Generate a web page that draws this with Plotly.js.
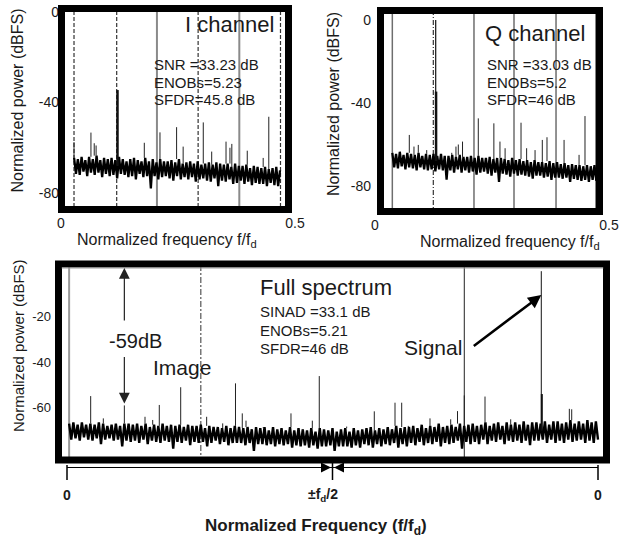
<!DOCTYPE html>
<html><head><meta charset="utf-8">
<script src="https://cdn.plot.ly/plotly-3.0.1.min.js"></script>
<style>html,body{margin:0;padding:0;background:#fff;} #chart{width:626px;height:540px;}</style>
</head><body><div id="chart"></div>
<script>
// ---------------- DATA ----------------
// I channel (normalized frequency f/fd, power dBFS)
const iNoiseStart = 0.028, iNoiseStep = 0.004;
const iNoiseDb = [
 -64.5,-71.5,-65,-72,-64,-70.5,-65.5,-72.5,-64,-71,
 -65,-72,-63.5,-71,-65.5,-73,-64.5,-71.5,-65,-72.5,
 -64.5,-72,-65.5,-73.5,-64,-71.5,-65,-72,-66,-73,
 -65,-72.5,-64.5,-74,-65.5,-71.5,-66,-73,-64.5,-72.5,
 -66,-78,-65,-72.5,-66.5,-74,-65,-73,-66,-72.5,
 -66,-73.5,-65.5,-74.5,-66.5,-72.5,-65,-74,-67,-73,
 -66.5,-74,-66,-73,-67,-75,-66,-74,-67.5,-73.5,
 -67,-74.5,-66.5,-75,-67.5,-73.5,-66.5,-77,-67,-74.5,
 -67.5,-75,-67,-74,-68.5,-76,-67,-75.5,-68,-74.5,
 -68,-76,-67.5,-75,-69,-76.5,-68,-75.5,-68.5,-76,
 -69,-76,-68.5,-77,-69.5,-75.5,-69,-76.5,-68.5,-77,-70];
const iSpurFreq = [0.0278,0.064,0.071,0.075,0.178,0.2115,0.247,0.261,0.304,0.322,0.3526,0.361,0.365,0.398,0.432,0.444];
const iSpurDb   = [-57.5,-53.3,-58,-59,-57.8,-53.2,-50.9,-59.5,-48.8,-61.7,-57.3,-60,-58.3,-61.3,-64.5,-46.3];
const iSignalFreq = [0.1207];
const iSignalDb = [-34.5];
const iSolidMarks = [0.205, 0.381];
const iDashedMarks = [0.0278, 0.119, 0.293, 0.469];
const iTitle = 'I channel';
const iStats = ['SNR =33.23 dB', 'ENOBs=5.23', 'SFDR=45.8 dB'];

// Q channel
const qNoiseStart = 0.037, qNoiseStep = 0.004;
const qNoiseDb = [
 -64,-71,-64.5,-71.5,-63.5,-70.5,-65,-72,-64,-71,
 -64.5,-71.5,-65,-72.5,-64,-71,-65.5,-72,-64.5,-72.5,
 -65,-72,-64.5,-73,-65.5,-72,-64.5,-72.5,-65.5,-77,
 -65.5,-72.5,-65,-73.5,-66,-72,-65,-73.5,-66,-72.5,
 -66,-73.5,-65.5,-73,-66.5,-74.5,-65.5,-73.5,-66.5,-73,
 -66.5,-74,-66,-75,-67,-73.5,-66.5,-78,-66.5,-74,
 -67,-74.5,-67.5,-75.5,-66.5,-74,-67.5,-75,-67,-74.5,
 -68,-75,-67.5,-75.5,-68.5,-76.5,-67.5,-75,-68.5,-75,
 -68.5,-76,-69,-75.5,-68,-77,-69,-76,-68.5,-76,
 -69.5,-76.5,-69,-76,-70,-78,-69.5,-76.5,-70,-77,
 -70,-77.5,-70.5,-77,-70,-78,-70.5,-77,-70,-77.5];
const qSpurFreq = [0.0733,0.0833,0.0925,0.1105,0.164,0.173,0.178,0.187,0.2207,0.254,0.267,0.278,0.312,0.324,0.342,0.3575,0.3675,0.404,0.436,0.4487];
const qSpurDb   = [-55.4,-61,-60.2,-62.7,-64,-61,-60,-58.6,-47.4,-49.8,-58.6,-61.8,-49.5,-61.8,-62.7,-57.8,-56.5,-57.8,-65,-46.3];
const qSignalFreq = [0.1297, 0.1305];
const qSignalDb = [0, -34.5];
const qSolidMarks = [0.037, 0.2115, 0.297, 0.3868, 0.472];
const qDashedMarks = [0.1246];
const qTitle = 'Q channel';
const qStats = ['SNR =33.03 dB', 'ENOBs=5.2', 'SFDR=46 dB'];

// Full spectrum (0 .. ±fd/2 .. 0 mapped to 0 .. 0.5 .. 1)
const fNoiseStart = 0.004, fNoiseStep = 0.004;
const fNoiseDb = [
 -67,-74,-66.5,-73.5,-67.5,-74.5,-66.5,-73,-67.5,-74,
 -67,-74.5,-67.5,-73.5,-66.5,-76,-67,-74,-68,-73.5,
 -67.5,-74.5,-67,-74,-68,-77,-67,-74.5,-67,-75,
 -67.5,-74.5,-67,-75.5,-68,-74,-67,-76,-68.5,-74.5,
 -67.5,-75,-68,-75.5,-67,-74.5,-68,-75,-67.5,-78,
 -68,-75,-67.5,-75.5,-68.5,-74.5,-67.5,-76.5,-68,-75,
 -68,-75.5,-67.5,-75,-69,-77,-68,-75.5,-68.5,-74.5,
 -68.5,-76,-69,-75,-68,-76.5,-69,-75.5,-68,-75.5,
 -68.5,-75.5,-69,-76.5,-68.5,-75.5,-69.5,-79,-68.5,-76,
 -69,-76,-68.5,-76.5,-70,-76,-68.5,-77,-69.5,-76,
 -69,-76.5,-70,-76,-68.5,-77.5,-70,-76.5,-69,-77,
 -69.5,-76.5,-70,-77.5,-69,-76.5,-70.5,-78,-69,-77,
 -69.5,-77,-70,-76.5,-69,-79,-70.5,-77,-69.5,-77,
 -69,-77,-70.5,-77.5,-69,-76.5,-70,-77.5,-69.5,-76,
 -69,-76.5,-68.5,-77.5,-70,-76,-69,-77,-69.5,-76,
 -68.5,-76.5,-69.5,-75.5,-68,-77.5,-69,-76,-68.5,-77,
 -68.5,-75.5,-68,-76.5,-69,-75,-67.5,-76.5,-69,-75.5,
 -68,-76,-68.5,-75,-67,-77,-68.5,-75.5,-68,-76,
 -67.5,-75.5,-68.5,-74.5,-67,-78,-68,-75,-67.5,-76,
 -67,-75,-68,-76,-67.5,-74,-66.5,-76,-68,-74.5,
 -67,-75,-66.5,-74,-68,-76,-66.5,-74.5,-67.5,-75,
 -66.5,-74.5,-67.5,-75.5,-66,-74.5,-67.5,-76.5,-66.5,-74.5,
 -66.5,-74.5,-67,-74,-66,-75.5,-67.5,-74,-66,-75.5,
 -66,-74.5,-67,-75.5,-66.5,-74,-65.5,-75,-67,-74.5,
 -66,-74,-67,-75.5,-65.5,-74.5,-66.5,-75.5,-66,-74];
const fSpurFreq = [0.0446,0.0684,0.108,0.1469,0.1614,0.1738,0.2141,0.263,0.2932,0.3173,0.3301,0.3371,0.3697,0.4218,0.4439,0.462,0.4751,0.5267,0.5787,0.6177,0.6303,0.6427,0.6836,0.7226,0.7354,0.7482,0.7872,0.8356,0.946,0.9505,0.9787];
const fSpurDb   = [-54.9,-64.7,-59,-64,-65.4,-58.8,-51,-64,-66.9,-49.3,-62.5,-65.7,-69,-62.5,-70,-65.7,-46.1,-68.3,-61.6,-57.8,-57.8,-68,-64.7,-65.1,-61.5,-54.6,-55.1,-65.1,-60.5,-60.7,-66];
const fSignalFreq = [0.8932, 0.8942];
const fSignalDb = [0, -54];
const fSolidMarks = [0.004];
const fDashDotMarks = [0.252];
const fThinMarks = [0.7482];
const fTitle = 'Full spectrum';
const fStats = ['SINAD =33.1 dB', 'ENOBs=5.21', 'SFDR=46 dB'];
const fTickVals = [0, 0.5, 1];
const fTickText = ['0', '±f<sub>d</sub>/2', '0'];
const imageFreq = 0.108, imageDb = -58.2;
const signalArrowDb = -10.5;

// ---------------- HELPERS ----------------
const W = 626, H = 540;
const PX = x => x / W;
const PY = y => 1 - y / H;
const FONT = 'Liberation Sans, Arial, Helvetica, sans-serif';
const TXT = '#1a1a1a';

function noiseXY(x0, dx, db) {
  return { x: db.map((_, i) => +(x0 + i * dx).toFixed(4)), y: db.slice() };
}
function spurXY(freqs, dbs, x0, dx, ndb) {
  const x = [], y = [];
  freqs.forEach((f, i) => {
    const k = Math.max(1, Math.min(ndb.length - 2, Math.round((f - x0) / dx)));
    const base = Math.max(ndb[k - 1], ndb[k], ndb[k + 1]);
    x.push(f, f, null); y.push(base, dbs[i], null);
  });
  return { x, y };
}
function sigXY(freqs, dbs, base) {
  const x = [], y = [];
  freqs.forEach((f, i) => { x.push(f, f, null); y.push(base, dbs[i], null); });
  return { x, y };
}

const traces = [];
function addPanel(xa, ya, x0, dx, ndb, sf, sdb, gf, gdb, sigBase, sigWidths, nw) {
  const n = noiseXY(x0, dx, ndb);
  traces.push({ type: 'scatter', mode: 'lines', x: n.x, y: n.y, xaxis: xa, yaxis: ya,
    line: { color: '#000', width: nw, simplify: false }, hoverinfo: 'skip' });
  const s = spurXY(sf, sdb, x0, dx, ndb);
  traces.push({ type: 'scatter', mode: 'lines', x: s.x, y: s.y, xaxis: xa, yaxis: ya,
    line: { color: '#222', width: 1, simplify: false }, connectgaps: false, hoverinfo: 'skip' });
  gf.forEach((f, i) => {
    const g = sigXY([f], [gdb[i]], sigBase);
    traces.push({ type: 'scatter', mode: 'lines', x: g.x, y: g.y, xaxis: xa, yaxis: ya,
      line: { color: '#111', width: sigWidths[i], simplify: false }, hoverinfo: 'skip' });
  });
}
addPanel('x', 'y', iNoiseStart, iNoiseStep, iNoiseDb, iSpurFreq, iSpurDb, iSignalFreq, iSignalDb, -68, [2.5], 2.3);
addPanel('x2', 'y2', qNoiseStart, qNoiseStep, qNoiseDb, qSpurFreq, qSpurDb, qSignalFreq, qSignalDb, -68, [1.2, 2.5], 2.3);
addPanel('x3', 'y3', fNoiseStart, fNoiseStep, fNoiseDb, fSpurFreq, fSpurDb, fSignalFreq, fSignalDb, -70, [1, 2], 2.4);

// ---------------- SHAPES ----------------
const shapes = [];
function vlines(freqs, xa, ya, color, width, dash) {
  freqs.forEach(f => shapes.push({ type: 'line', xref: xa, yref: ya + ' domain', x0: f, x1: f, y0: 0, y1: 1,
    line: { color, width, dash }, layer: 'below' }));
}
vlines(iSolidMarks, 'x', 'y', '#8a8a8a', 2, 'solid');
vlines(iDashedMarks, 'x', 'y', '#333', 1.2, '4px,2px');
vlines(qSolidMarks, 'x2', 'y2', '#6e6e6e', 1.5, 'solid');
vlines(qDashedMarks, 'x2', 'y2', '#333', 1.2, '5px,2px,1px,2px');
vlines(fSolidMarks, 'x3', 'y3', '#999', 2, 'solid');
vlines(fDashDotMarks, 'x3', 'y3', '#555', 1.2, '6px,2px,2px,2px');
vlines(fThinMarks, 'x3', 'y3', '#222', 1, 'solid');

function frame(x0, y0, x1, y1) {
  shapes.push({ type: 'rect', xref: 'paper', yref: 'paper', x0: PX(x0), x1: PX(x1), y0: PY(y1), y1: PY(y0),
    line: { color: '#000', width: 7 }, fillcolor: 'rgba(0,0,0,0)', layer: 'above' });
}
frame(61.5, 8.5, 288.5, 209.5);
frame(380.5, 10.5, 599.5, 211.5);
frame(58.5, 264, 606.5, 460);
// thin gray line under top frame of full spectrum
shapes.push({ type: 'line', xref: 'x3', yref: 'paper', x0: -0.01, x1: 1.01, y0: PY(268), y1: PY(268), line: { color: '#999', width: 1 } });
// frequency scale line under full spectrum
shapes.push({ type: 'line', xref: 'x3', yref: 'paper', x0: fTickVals[0], x1: fTickVals[2], y0: PY(467.5), y1: PY(467.5), line: { color: '#000', width: 1.2 } });
fTickVals.forEach(v => shapes.push({ type: 'line', xref: 'x3', yref: 'paper', x0: v, x1: v, y0: PY(v === 0.5 ? 463 : 465), y1: PY(480), line: { color: '#000', width: 1.5 } }));

// ---------------- ANNOTATIONS ----------------
const ann = [];
function txt(text, x, y, size, opt) {
  ann.push(Object.assign({ text, xref: 'paper', yref: 'paper', x: PX(x), y: PY(y), showarrow: false,
    xanchor: 'left', yanchor: 'middle', font: { family: FONT, size, color: TXT } }, opt || {}));
}
txt(iTitle, 183, 25, 22);
iStats.forEach((s, i) => txt(s, 152, 65 + 17 * i, 15));
txt(qTitle, 483, 33, 22);
qStats.forEach((s, i) => txt(s, 485, 65 + 17.5 * i, 15));
txt(fTitle, 258, 287, 22);
fStats.forEach((s, i) => txt(s, 258, 312 + 18 * i, 15));
txt('-59dB', 135, 341, 20, { xanchor: 'center' });
txt('Image', 151, 367, 21);
txt('Signal', 402, 347, 21);

// axis titles
txt('Normalized power (dBFS)', 17.5, 101, 16, { xanchor: 'center', textangle: -90 });
txt('Normalized frequency f/f<sub>d</sub>', 167, 240, 16, { xanchor: 'center' });
txt('Normalized power (dBFS)', 333, 104, 16, { xanchor: 'center', textangle: -90 });
txt('Normalized frequency f/f<sub>d</sub>', 510, 242, 16, { xanchor: 'center' });
txt('Normalized power (dBFS)', 18, 346, 15, { xanchor: 'center', textangle: -90 });
txt('<b>Normalized Frequency (f/f<sub>d</sub>)</b>', 316, 527, 17, { xanchor: 'center' });

// full-spectrum scale labels
fTickVals.forEach((v, i) => ann.push({ text: '<b>' + fTickText[i] + '</b>', xref: 'x3', yref: 'paper',
  x: v === 0.5 ? 0.483 : v, y: PY(495), showarrow: false, xanchor: 'center', yanchor: 'middle',
  font: { family: FONT, size: 14, color: TXT } }));
// arrowheads meeting at ±fd/2
[-18, 18].forEach(a => ann.push({ text: '', xref: 'x3', yref: 'paper', x: fTickVals[1], y: PY(467.5),
  showarrow: true, ax: a, ay: 0, arrowhead: 2, arrowsize: 2, arrowwidth: 1, arrowcolor: '#000', standoff: 1.5 }));
// -59 dB double arrow
ann.push({ text: '', xref: 'x3', yref: 'y3', x: imageFreq, y: 1.4, showarrow: true, ax: 0, ay: 54,
  arrowhead: 2, arrowsize: 1.8, arrowwidth: 1.2, arrowcolor: '#222' });
ann.push({ text: '', xref: 'x3', yref: 'y3', x: imageFreq, y: imageDb, showarrow: true, ax: 0, ay: -48,
  arrowhead: 2, arrowsize: 1.8, arrowwidth: 1.2, arrowcolor: '#222' });
// signal arrow
ann.push({ text: '', xref: 'x3', yref: 'y3', x: fSignalFreq[0], y: signalArrowDb, showarrow: true, ax: -69, ay: 52,
  arrowhead: 2, arrowsize: 1.05, arrowwidth: 2.5, arrowcolor: '#000' });

// ---------------- AXES ----------------
const baseAx = { showgrid: false, zeroline: false, showline: false, ticks: '', fixedrange: true,
  tickfont: { family: FONT, size: 14, color: TXT } };
const layout = {
  width: W, height: H, margin: { l: 0, r: 0, t: 0, b: 0 }, showlegend: false,
  paper_bgcolor: '#fff', plot_bgcolor: '#fff',
  xaxis: Object.assign({}, baseAx, { domain: [PX(61), PX(295)], range: [0, 0.5], anchor: 'y', tickvals: [0, 0.5], ticktext: ['0', '0.5'] }),
  yaxis: Object.assign({}, baseAx, { domain: [PY(213), PY(5)], range: [-88.84, 3.09], anchor: 'x', tickvals: [0, -40, -80], ticktext: ['0', '-40', '-80'], ticklabelstandoff: 1 }),
  xaxis2: Object.assign({}, baseAx, { domain: [PX(375), PX(609)], range: [0, 0.5], anchor: 'y2', tickvals: [0, 0.5], ticktext: ['0', '0.5'] }),
  yaxis2: Object.assign({}, baseAx, { domain: [PY(215), PY(7)], range: [-93.98, 6.27], anchor: 'x2', tickvals: [0, -40, -80], ticktext: ['0', '-40', '-80'], ticklabelstandoff: 3 }),
  xaxis3: Object.assign({}, baseAx, { domain: [PX(55), PX(610)], range: [-0.0226, 1.0226], anchor: 'y3', showticklabels: false }),
  yaxis3: Object.assign({}, baseAx, { domain: [PY(463), PY(261)], range: [-84.31, 4.48], anchor: 'x3', tickvals: [-20, -40, -60], ticktext: ['-20', '-40', '-60'],
    ticklabelstandoff: 3, tickfont: { family: FONT, size: 13, color: TXT } }),
  shapes, annotations: ann
};
Plotly.newPlot('chart', traces, layout, { staticPlot: true, displayModeBar: false });
</script>
</body></html>
